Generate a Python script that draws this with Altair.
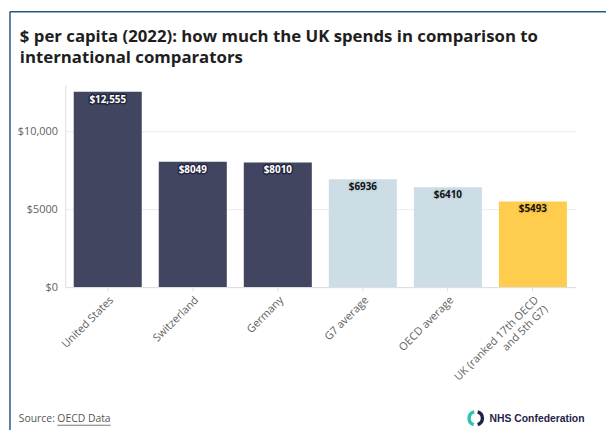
import altair as alt
import pandas as pd

categories = ["United States", "Switzerland", "Germany", "G7 average", "OECD average",
              "UK (ranked 17th OECD and 5th G7)"]
values = [12555, 8049, 8010, 6936, 6410, 5493]
value_labels = ["$12,555", "$8049", "$8010", "$6936", "$6410", "$5493"]
groups = ["country", "country", "country", "average", "average", "UK"]
y_ticks = [0, 5000, 10000]

title_text = ("$ per capita (2022): how much the UK spends in comparison to\n"
              "international comparators")
source_prefix = "Source:"
source_link = "OECD Data"
logo_text = "NHS Confederation"

FONT = "Open Sans"
W, H = 517, 205

df = pd.DataFrame({"category": categories, "value": values,
                   "label": value_labels, "group": groups})

group_dom = ["country", "average", "UK"]
bar_colors = ["#41455f", "#ccdde5", "#ffcd4d"]
label_fill = ["#ffffff", "#111111", "#111111"]
halo_colors = ["#23263d", "#c3d5de", "#f7c23c"]

x_enc = alt.X("category:N", sort=categories,
              scale=alt.Scale(paddingInner=0.2, paddingOuter=0.1),
              axis=alt.Axis(title=None, labelAngle=-45, labelFont=FONT, labelFontSize=11,
                            labelColor="#5e5e5e", domainColor="#dddddd", tickColor="#dddddd",
                            tickSize=4, labelPadding=3, labelLineHeight=13,
                            labelExpr="datum.label == 'UK (ranked 17th OECD and 5th G7)' ? "
                                      "['UK (ranked 17th OECD', 'and 5th G7)'] : datum.label"))
y_enc = alt.Y("value:Q", scale=alt.Scale(domain=[0, 13000], nice=False),
              axis=alt.Axis(title=None, values=y_ticks, ticks=False, labelFont=FONT,
                            labelFontSize=11, labelColor="#5e5e5e", labelPadding=8,
                            domainColor="#dddddd", gridColor="#ebebeb",
                            labelExpr="datum.value >= 10000 ? '$' + format(datum.value, ',') : '$' + datum.value"))

bars = alt.Chart(df).mark_bar().encode(
    x=x_enc, y=y_enc,
    color=alt.Color("group:N", scale=alt.Scale(domain=group_dom, range=bar_colors), legend=None),
)

halo = alt.Chart(df).mark_text(font=FONT, fontSize=10, fontWeight="bold", dy=8,
                               baseline="middle", strokeWidth=3, strokeJoin="round").encode(
    x=alt.X("category:N", sort=categories),
    y="value:Q",
    text="label:N",
    fill=alt.Fill("group:N", scale=alt.Scale(domain=group_dom, range=label_fill), legend=None),
    stroke=alt.Stroke("group:N", scale=alt.Scale(domain=group_dom, range=halo_colors), legend=None),
)
labels = alt.Chart(df).mark_text(font=FONT, fontSize=10, fontWeight="bold", dy=8,
                                 baseline="middle").encode(
    x=alt.X("category:N", sort=categories),
    y="value:Q",
    text="label:N",
    fill=alt.Fill("group:N", scale=alt.Scale(domain=group_dom, range=label_fill), legend=None),
)

def note(text, x, y, **kw):
    return alt.Chart(pd.DataFrame({"t": [text]})).mark_text(
        align="left", baseline="alphabetic", **kw).encode(
        x=alt.value(x), y=alt.value(y), text="t:N")

title = note(title_text, -46, -43, font=FONT, fontSize=17, fontWeight="bold",
             color="#1e1e1e", lineBreak="\n", lineHeight=20.5)
src1 = note(source_prefix, -47, 342, font=FONT, fontSize=10.5, color="#555555")
src2 = note(source_link, -8, 342, font=FONT, fontSize=10.5, color="#555555")
underline = alt.Chart(pd.DataFrame({"t": [source_link]})).mark_rule(
    color="#555555", strokeWidth=0.8).encode(
    x=alt.value(-8), x2=alt.value(46), y=alt.value(345))
logo_t = note(logo_text, 430, 342, font="Liberation Sans", fontSize=10.5, fontWeight="bold",
              color="#1f2447")
arc_l = alt.Chart(pd.DataFrame({"t": ["l"]})).mark_arc(
    radius=8.5, radius2=5, theta=3.45, theta2=6.05, color="#2cc4b0").encode(
    x=alt.value(416), y=alt.value(338))
arc_r = alt.Chart(pd.DataFrame({"t": ["r"]})).mark_arc(
    radius=8.5, radius2=5, theta=0.3, theta2=2.85, color="#1f2447").encode(
    x=alt.value(416), y=alt.value(338))

border_top = alt.Chart(pd.DataFrame({"t": ["b"]})).mark_rule(
    color="#25597c", strokeWidth=1.5).encode(
    x=alt.value(-56), x2=alt.value(560), y=alt.value(-74))
border_left = alt.Chart(pd.DataFrame({"t": ["b"]})).mark_rule(
    color="#25597c", strokeWidth=1.5).encode(
    x=alt.value(-56), y=alt.value(-74), y2=alt.value(400))

chart = alt.layer(bars, halo, labels, title, src1, src2, underline, logo_t, arc_l, arc_r,
                  border_top, border_left).properties(
    width=W, height=H,
    padding={"left": 58, "top": 75, "right": 31, "bottom": 142},
    autosize="none",
    background="white",
).configure_view(stroke=None)

chart.save("out.html", embed_options={"renderer": "svg", "actions": False})
